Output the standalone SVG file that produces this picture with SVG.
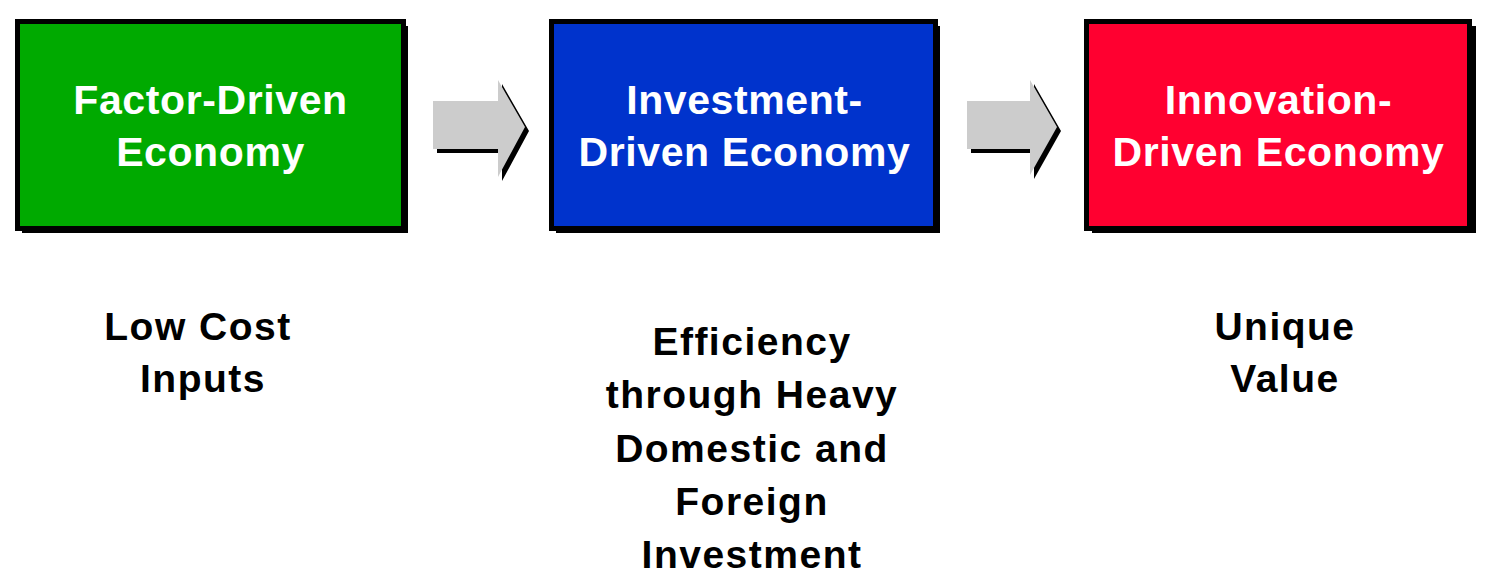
<svg xmlns="http://www.w3.org/2000/svg" width="1498" height="588" viewBox="0 0 1498 588">
<style>
.shadow{fill:#000}
.box{stroke:#000;stroke-width:5}
.title{font-family:"Liberation Sans",Arial,sans-serif;font-weight:bold;font-size:41px;fill:#fff;text-anchor:middle;letter-spacing:0.6px}
.label{font-family:"Liberation Sans",Arial,sans-serif;font-weight:bold;font-size:39px;fill:#000;text-anchor:middle;letter-spacing:1.5px}
.arrow{fill:#cccccc}
</style>
<rect width="1498" height="588" fill="#fff"/>
<g id="connectors">
  <g id="arrow1">
    <path class="shadow" d="M437,105 H502 V84 L529,131 L502,181 V153 H437 Z"/>
    <path class="arrow" d="M433,101 H498 V80 L525,127 L498,177 V149 H433 Z"/>
  </g>
  <g id="arrow2">
    <path class="shadow" d="M971,105 H1034 V84 L1061,131 L1034,179 V153 H971 Z"/>
    <path class="arrow" d="M967,101 H1030 V80 L1057,127 L1030,175 V149 H967 Z"/>
  </g>
</g>
<g id="node-factor">
  <rect class="shadow" x="22" y="26" width="386" height="207"/>
  <rect class="box" x="17.5" y="21.5" width="386" height="207" fill="#00AA00"/>
  <text class="title" x="210.5" y="114">Factor-Driven</text>
  <text class="title" x="210.5" y="166">Economy</text>
</g>
<g id="node-investment">
  <rect class="shadow" x="556" y="26" width="384" height="207"/>
  <rect class="box" x="551.5" y="21.5" width="384" height="207" fill="#0033CC"/>
  <text class="title" x="744.5" y="114">Investment-</text>
  <text class="title" x="744.5" y="166">Driven Economy</text>
</g>
<g id="node-innovation">
  <rect class="shadow" x="1092" y="26" width="384" height="207"/>
  <rect class="box" x="1086.5" y="21.5" width="383" height="207" fill="#FF0030"/>
  <text class="title" x="1278.5" y="114">Innovation-</text>
  <text class="title" x="1278.5" y="166">Driven Economy</text>
</g>
<g id="label-factor">
  <text class="label" x="198" y="340">Low Cost</text>
  <text class="label" x="203" y="392">Inputs</text>
</g>
<g id="label-investment">
  <text class="label" x="752" y="355">Efficiency</text>
  <text class="label" x="752" y="408">through Heavy</text>
  <text class="label" x="752" y="462">Domestic and</text>
  <text class="label" x="752" y="515">Foreign</text>
  <text class="label" x="752" y="568">Investment</text>
</g>
<g id="label-innovation">
  <text class="label" x="1285" y="340">Unique</text>
  <text class="label" x="1285" y="392">Value</text>
</g>
</svg>
